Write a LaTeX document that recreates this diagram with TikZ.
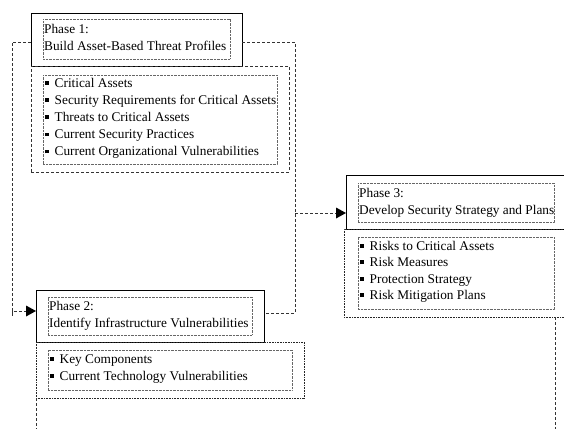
\documentclass[tikz,border=0pt]{standalone}
\usepackage{fontspec}
\setmainfont{Liberation Serif}
\usetikzlibrary{arrows.meta,calc}

\tikzset{
  x=1pt, y=-1pt,
  hdrbox/.style={draw=black, line width=0.85pt, inner sep=0pt, outer sep=0pt, anchor=north west},
  listbox/.style={draw=black!85, line width=0.8pt, dash pattern=on 1pt off 0.6pt, inner sep=0pt, outer sep=0pt, anchor=north west},
  dashbox/.style={draw=black!80, line width=0.9pt, dash pattern=on 3pt off 2pt, inner sep=0pt, outer sep=0pt, anchor=north west},
  innerbox/.style={draw=black!60, line width=0.6pt, dash pattern=on 0.8pt off 0.6pt, inner sep=0pt, outer sep=0pt, anchor=north west},
  conn/.style={draw=black!80, line width=0.9pt, dash pattern=on 3pt off 2pt},
  tip/.style={-{Triangle[length=10pt,width=11pt,fill=black,line width=0pt]}},
  line/.style={font=\fontsize{13.3}{17}\selectfont, inner sep=0pt, anchor=base west},
}
\newcommand{\bul}{\makebox[9.5pt][l]{\rule[2.5pt]{3.6pt}{3.6pt}}}

\begin{document}
\begin{tikzpicture}
\useasboundingbox (0,0) rectangle (564,429);

% Phase 1
\node[hdrbox, minimum width=211pt, minimum height=53pt] (p1) at (31,13) {};
\node[innerbox, minimum width=187pt, minimum height=40pt] (p1in) at (43,19) {};
\node[line] (p1a) at (44,33) {Phase 1:};
\node[line] (p1b) at (44,50) {Build Asset-Based Threat Profiles};
\node[dashbox, minimum width=258pt, minimum height=106pt] (l1) at (31,66) {};
\node[innerbox, minimum width=234pt, minimum height=89pt] (l1in) at (43,75) {};
\foreach \t [count=\i] in {Critical Assets,Security Requirements for Critical Assets,Threats to Critical Assets,Current Security Practices,Current Organizational Vulnerabilities}
  \node[line] (l1i\i) at (45,{87+17.2*(\i-1)}) {\bul\t};

% Phase 2
\node[hdrbox, minimum width=228pt, minimum height=52pt] (p2) at (36,290) {};
\node[innerbox, minimum width=204pt, minimum height=38pt] (p2in) at (48,297) {};
\node[line] (p2a) at (49,310) {Phase 2:};
\node[line] (p2b) at (49,327) {Identify Infrastructure Vulnerabilities};
\node[listbox, minimum width=268pt, minimum height=56pt] (l2) at (36,342) {};
\node[innerbox, minimum width=244pt, minimum height=40pt] (l2in) at (48,350) {};
\foreach \t [count=\i] in {Key Components,Current Technology Vulnerabilities}
  \node[line] (l2i\i) at (50,{363+17*(\i-1)}) {\bul\t};

% Phase 3
\node[hdrbox, minimum width=222pt, minimum height=54pt] (p3) at (346,175) {};
\node[innerbox, minimum width=196pt, minimum height=39pt] (p3in) at (358,183) {};
\node[line] (p3a) at (359,197) {Phase 3:};
\node[line] (p3b) at (359,214) {Develop Security Strategy and Plans};
\node[listbox, minimum width=224pt, minimum height=88pt] (l3) at (344,229) {};
\node[innerbox, minimum width=196pt, minimum height=72pt] (l3in) at (358,237) {};
\foreach \t [count=\i] in {Risks to Critical Assets,Risk Measures,Protection Strategy,Risk Mitigation Plans}
  \node[line] (l3i\i) at (360,{250+16.5*(\i-1)}) {\bul\t};

% connectors between the phases
\coordinate (lft) at (12,0);
\coordinate (rgt) at (295,0);
\draw[conn, tip] ([yshift=-2.5pt]p1.west) -| (lft |- p2.west) |- ([yshift=5pt]p2.west);
\draw[conn] ([yshift=-2.5pt]p1.east) -| ([yshift=3pt]p2.east -| rgt) -- ([yshift=3pt]p2.east);
\draw[conn, tip] ([yshift=-11pt]p3.west -| rgt) -- ([yshift=-11pt]p3.west);

% outgoing lines at the bottom
\coordinate (b2) at (36,429);
\coordinate (b3) at (555,429);
\draw[conn] (l2.south west) -- (b2);
\draw[conn] (l3.south -| b3) -- (b3);
\end{tikzpicture}
\end{document}
